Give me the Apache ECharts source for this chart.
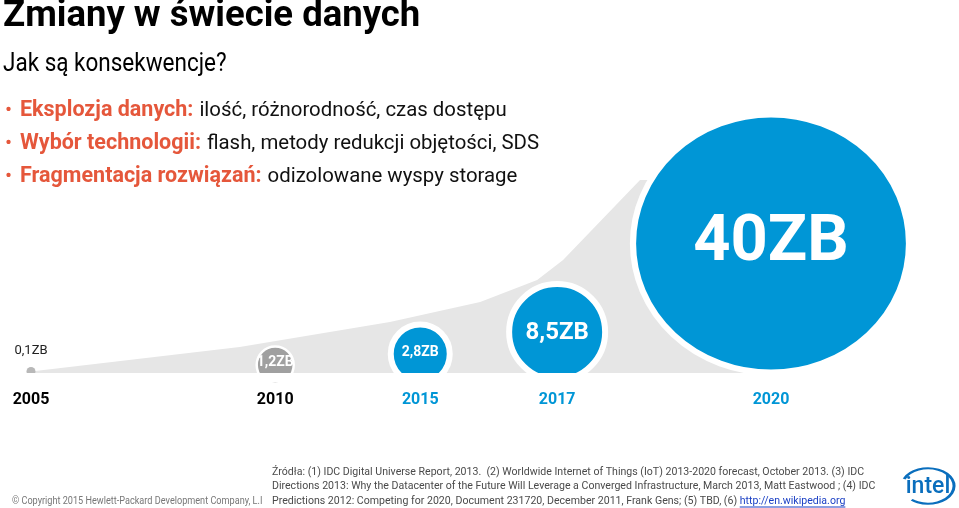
<!DOCTYPE html>
<html><head><meta charset="utf-8">
<script src="https://cdn.jsdelivr.net/npm/echarts@6/dist/echarts.min.js"></script>
<style>html,body{margin:0;padding:0;background:#fff}#c{width:959px;height:508px}</style>
</head><body><div id="c"></div>
<script>
// ---- data ----
const years = ['2005', '2010', '2015', '2017', '2020'];
const volumes = [0.1, 1.2, 2.8, 8.5, 40];              // zettabytes
const volumeLabels = ['0,1ZB', '1,2ZB', '2,8ZB', '8,5ZB', '40ZB'];
const title = 'Zmiany w świecie danych';
const subtitle = 'Jak są konsekwencje?';
const bulletHeads = ['Eksplozja danych:', 'Wybór technologii:', 'Fragmentacja rozwiązań:'];
const bulletTexts = ['ilość, różnorodność, czas dostępu', 'flash, metody redukcji objętości, SDS', 'odizolowane wyspy storage'];
const sourceLines = [
  'Źródła: (1) IDC Digital Universe Report, 2013.  (2) Worldwide Internet of Things (IoT) 2013-2020 forecast, October 2013. (3) IDC',
  'Directions 2013: Why the Datacenter of the Future Will Leverage a Converged Infrastructure, March 2013, Matt Eastwood ; (4) IDC',
  'Predictions 2012: Competing for 2020, Document 231720, December 2011, Frank Gens; (5) TBD, (6) '
];
const sourceLink = 'http://en.wikipedia.org';
const copyright = '© Copyright 2015 Hewlett-Packard Development Company, L.I';

// ---- layout (not data) ----
const slot = [0, 33, 52.6, 71.1, 100];           // horizontal slot of each year on the timeline
const centerH = [1.5, 8, 19, 41, 129.5];         // bubble centre height above the baseline
const sizes = [[9, 9], [37, 37], [59, 59], [96, 96], [276, 258]];
const borders = [0, 2.5, 6, 6, 6];
const labelSizes = [13, 14, 14, 24, 65];
const labelOffsets = [[0, 0], [0, -3], [0, -2], [0, 1], [0, 0]];
const fills = ['#b8b8b8', '#a0a0a0', '#0096d6', '#0096d6', '#0096d6'];
// decorative grey wedge outline (slot, height)
const wedgeOutline = [[0, 1.5], [28.2, 26], [48.5, 51], [60.7, 71], [68.4, 93], [71.9, 113], [82.3, 193], [100, 193]];
const BLUE = '#0096d6', ORANGE = '#e5573b', FONT = 'Roboto';

const bubbles = years.map((y, i) => ({
  value: [slot[i], centerH[i], volumes[i]],
  symbolSize: sizes[i],
  itemStyle: { color: fills[i], borderColor: '#fff', borderWidth: borders[i], opacity: 1 },
  label: i === 0
    ? { show: true, position: 'top', distance: 10, color: '#222', fontSize: 13, fontFamily: FONT, formatter: volumeLabels[i] }
    : { show: true, position: 'inside', offset: labelOffsets[i], color: '#fff', fontWeight: 'bold', fontSize: labelSizes[i], fontFamily: FONT, formatter: volumeLabels[i] }
}));

const chart = echarts.init(document.getElementById('c'));

function textEl(x, y, text, style, extra) {
  return Object.assign({ type: 'text', x: x, y: y, style: Object.assign({ text: text, textVerticalAlign: 'middle', fontFamily: FONT }, style) }, extra || {});
}
const ctx = document.createElement('canvas').getContext('2d');
function measure(str, font) { ctx.font = font; return ctx.measureText(str).width; }

const graphics = [
  textEl(3, 17, title, { fontSize: 36.5, fontWeight: 'bold', fill: '#000' }),
  textEl(3, 65, subtitle, { fontSize: 25, fill: '#000' }, { scaleX: 0.9 }),
];
const HEAD = 21.5, BODY = 20.4;
bulletHeads.forEach((h, i) => {
  const y = 111 + i * 33;
  graphics.push(textEl(5, y, '•', { fontSize: 21, fill: ORANGE }));
  graphics.push(textEl(20, y, h, { fontSize: HEAD, fontWeight: 'bold', fill: ORANGE }));
  const tx = 20 + measure(h, 'bold ' + HEAD + 'px Roboto') + 6;
  graphics.push(textEl(tx, y, bulletTexts[i], { fontSize: BODY, fill: '#111' }));
});
const srcScale = 0.962;
sourceLines.forEach((l, i) => {
  graphics.push(textEl(272, 472 + i * 14.5, l, { fontSize: 11, fill: '#4a4a4a' }, { scaleX: srcScale }));
});
const linkX = 272 + measure(sourceLines[2], '11px Roboto') * srcScale;
const linkW = measure(sourceLink, '11px Roboto') * srcScale;
graphics.push(textEl(linkX, 501, sourceLink, { fontSize: 11, fill: '#1a3fc4' }, { scaleX: srcScale }));
graphics.push({ type: 'line', shape: { x1: linkX, y1: 507, x2: linkX + linkW, y2: 507 }, style: { stroke: '#1a3fc4', lineWidth: 1 } });
graphics.push(textEl(12, 501, copyright, { fontSize: 11, fill: '#777' }, { scaleX: 0.83 }));
// clip bubbles at the baseline
graphics.push({ type: 'rect', z: 100, shape: { x: 0, y: 373, width: 959, height: 9 }, style: { fill: '#fff' } });
// intel logo
graphics.push(textEl(928, 487, 'intel', { fontSize: 23, fontWeight: 500, fill: '#0a6ebd', textAlign: 'center' }));
graphics.push({ type: 'arc', x: 928, y: 486, scaleY: 0.68, shape: { cx: 0, cy: 0, r: 26, startAngle: 3.55, endAngle: 2 * Math.PI + 2.25, clockwise: true }, style: { fill: 'none', stroke: '#0a6ebd', lineWidth: 3 } });

chart.setOption({
  animation: false,
  grid: { left: 31, right: 188, top: 112, bottom: 135, outerBoundsMode: 'none' },
  xAxis: {
    type: 'value', min: 0, max: 100,
    axisLine: { show: false }, axisTick: { show: false }, splitLine: { show: false },
    axisLabel: {
      customValues: slot, margin: 19, fontFamily: FONT,
      formatter: v => { const i = slot.indexOf(v); return i < 0 ? '' : (i < 2 ? '{k|' : '{b|') + years[i] + '}'; },
      rich: { k: { color: '#000', fontWeight: 'bold', fontSize: 16, fontFamily: FONT }, b: { color: BLUE, fontWeight: 'bold', fontSize: 16, fontFamily: FONT } }
    }
  },
  yAxis: { type: 'value', min: 0, max: 261, show: false },
  series: [
    { type: 'line', data: wedgeOutline, smooth: false, symbol: 'none', lineStyle: { width: 0 }, areaStyle: { color: '#e6e6e6', opacity: 1 }, z: 1, silent: true },
    { type: 'scatter', data: bubbles, z: 3 }
  ],
  graphic: graphics
});
</script></body></html>
